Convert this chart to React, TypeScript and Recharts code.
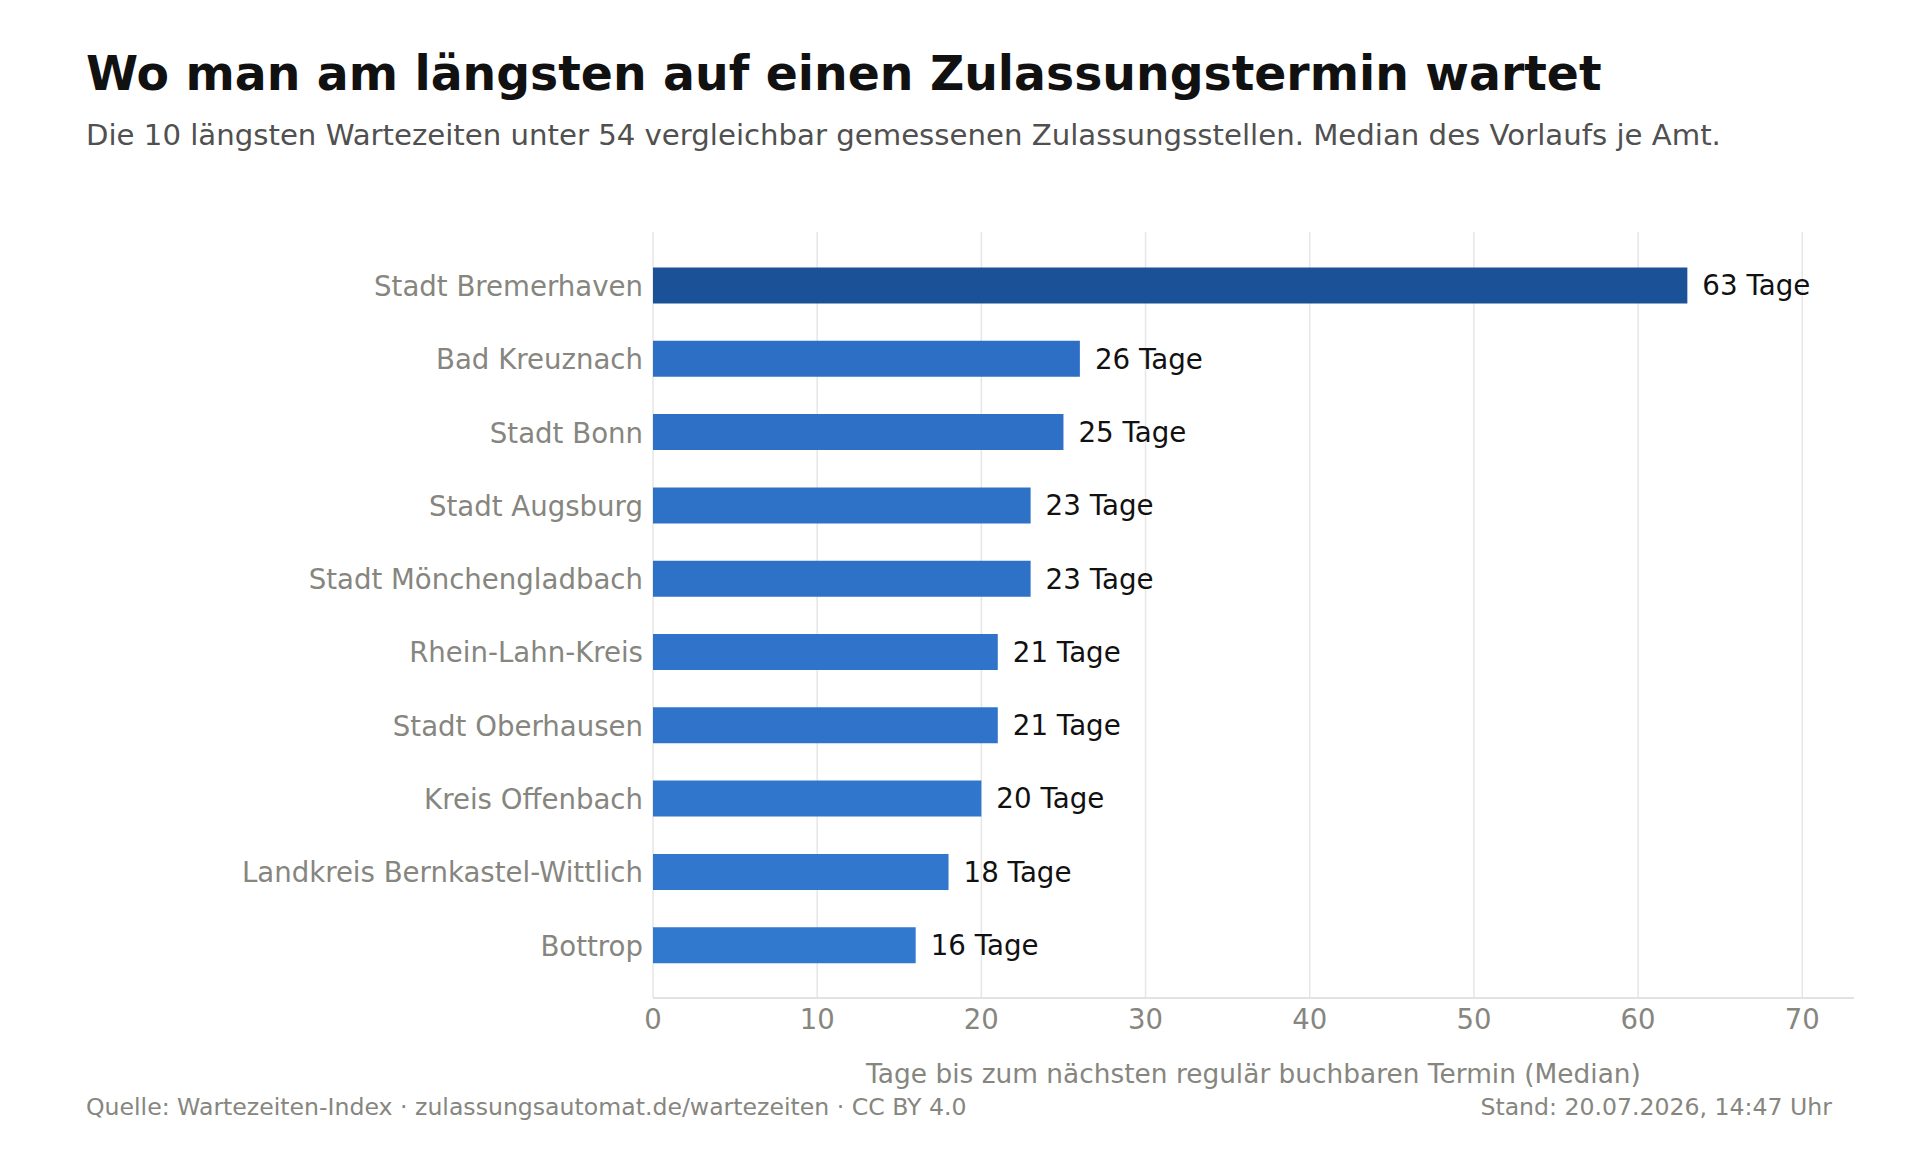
import React from "react";
import { BarChart, Bar, XAxis, YAxis, CartesianGrid, Cell, LabelList } from "recharts";

// Top ten registration offices by median lead time (days)
const offices = [
  "Stadt Bremerhaven",
  "Bad Kreuznach",
  "Stadt Bonn",
  "Stadt Augsburg",
  "Stadt Mönchengladbach",
  "Rhein-Lahn-Kreis",
  "Stadt Oberhausen",
  "Kreis Offenbach",
  "Landkreis Bernkastel-Wittlich",
  "Bottrop",
];
const medianDays = [63, 26, 25, 23, 23, 21, 21, 20, 18, 16];
const dayTicks = [0, 10, 20, 30, 40, 50, 60, 70];
const X_MAX = 73.15;

const barColors = [
  "#1b5196",
  "#2d6fc5",
  "#2d70c6",
  "#2e72c8",
  "#2e72c8",
  "#2f74ca",
  "#2f74ca",
  "#3076cc",
  "#3077cd",
  "#3179cf",
];

const FONT = "'DejaVu Sans', Verdana, sans-serif";
const GREY = "#86867f";

const rows = offices.map((name, i) => ({ name, days: medianDays[i] }));

// grid lines only at the tick values, not at the axis end
const gridX = (p: any) =>
  dayTicks.map((t) =>
    p.xAxis && typeof p.xAxis.scale === "function"
      ? p.xAxis.scale(t)
      : p.offset.left + (t / X_MAX) * p.offset.width
  );

export default function App() {
  return (
    <div style={{ position: "absolute", left: 0, top: 0, width: 1920, height: 1160, background: "#fff", fontFamily: FONT }}>
      <BarChart
        width={1920}
        height={1160}
        data={rows}
        layout="vertical"
        margin={{ top: 232, right: 66, bottom: 102, left: 0 }}
      >
        <CartesianGrid
          horizontal={false}
          stroke="#e6e6e6"
          strokeWidth={1.5}
          verticalCoordinatesGenerator={gridX}
        />
        <XAxis
          type="number"
          dataKey="days"
          domain={[0, X_MAX]}
          ticks={dayTicks}
          height={60}
          tickSize={0}
          tickMargin={11}
          axisLine={{ stroke: "#e2e2e2", strokeWidth: 2 }}
          tick={{ fill: GREY, fontSize: 27.5, fontFamily: FONT }}
          label={{
            value: "Tage bis zum nächsten regulär buchbaren Termin (Median)",
            position: "bottom",
            offset: 6,
            fill: GREY,
            fontSize: 26.4,
            fontFamily: FONT,
          }}
        />
        <YAxis
          type="category"
          dataKey="name"
          width={653}
          tickSize={0}
          tickMargin={10}
          axisLine={false}
          padding={{ top: 16.5, bottom: 16.5 }}
          tick={{ fill: GREY, fontSize: 27.6, fontFamily: FONT, dy: 1 }}
        />
        <Bar dataKey="days" barSize={36} isAnimationActive={false}>
          {rows.map((r, i) => (
            <Cell key={r.name} fill={barColors[i]} />
          ))}
          <LabelList
            dataKey="days"
            position="right"
            offset={15}
            formatter={(v: number) => `${v} Tage`}
            style={{ fill: "#111", fontSize: 27.7, fontFamily: FONT }}
          />
        </Bar>
      </BarChart>
      <svg width={1920} height={1160} style={{ position: "absolute", left: 0, top: 0, pointerEvents: "none" }}>
        <text x={86} y={90} fontSize={47.3} fontWeight="bold" fill="#111" fontFamily={FONT}>
          Wo man am längsten auf einen Zulassungstermin wartet
        </text>
        <text x={86} y={145} fontSize={29.2} fill="#505050" fontFamily={FONT}>
          Die 10 längsten Wartezeiten unter 54 vergleichbar gemessenen Zulassungsstellen. Median des Vorlaufs je Amt.
        </text>
        <text x={86} y={1115} fontSize={23.6} fill={GREY} fontFamily={FONT}>
          Quelle: Wartezeiten-Index · zulassungsautomat.de/wartezeiten · CC BY 4.0
        </text>
        <text x={1832} y={1115} fontSize={23.6} fill={GREY} fontFamily={FONT} textAnchor="end">
          Stand: 20.07.2026, 14:47 Uhr
        </text>
      </svg>
    </div>
  );
}
